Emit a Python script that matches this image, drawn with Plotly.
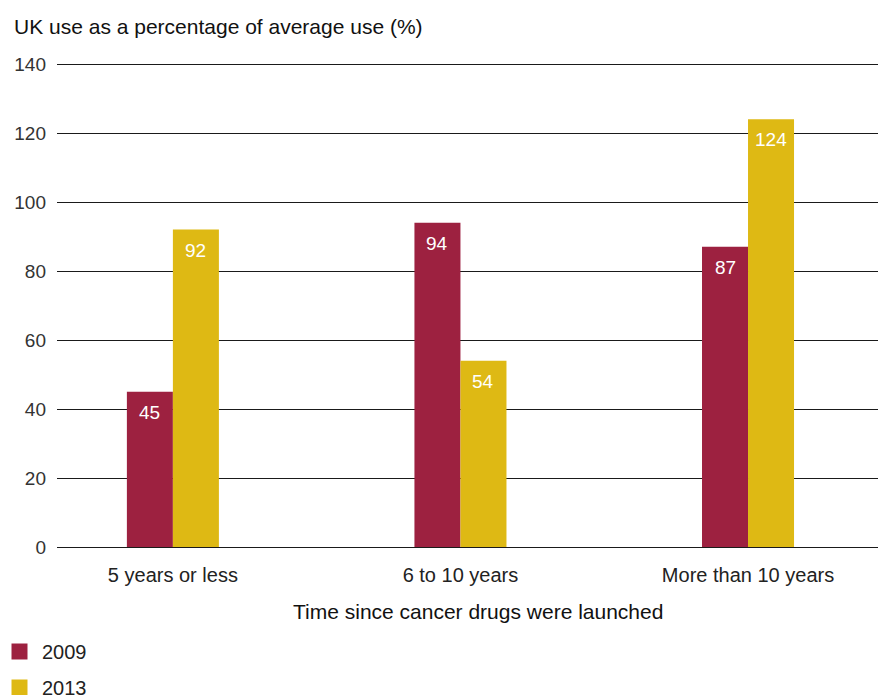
import plotly.graph_objects as go

categories = ["5 years or less", "6 to 10 years", "More than 10 years"]
series_names = ["2009", "2013"]
values_2009 = [45, 94, 87]
values_2013 = [92, 54, 124]
y_ticks = [0, 20, 40, 60, 80, 100, 120, 140]

colors = {"2009": "#9D2140", "2013": "#DEB914"}
font_family = "Liberation Sans, Arial, Helvetica, sans-serif"

PLOT_W, PLOT_H = 821, 484

fig = go.Figure()
for i, (name, vals) in enumerate(zip(series_names, [values_2009, values_2013])):
    fig.add_trace(go.Bar(
        x=categories, y=vals, name=name,
        marker=dict(color=colors[name], line=dict(width=0)),
        showlegend=False,
        hoverinfo="x+y+name",
    ))
    # legend entry with a larger square swatch
    fig.add_trace(go.Scatter(
        x=[None], y=[None], name=name, mode="markers",
        marker=dict(symbol="square", size=16, color=colors[name]),
        showlegend=True, legendgroup=name,
    ))
    # value labels just inside the top of each bar
    for cat, v in zip(categories, vals):
        fig.add_annotation(
            x=cat, y=v, xref="x", yref="y",
            text=str(v), showarrow=False,
            yanchor="top", yshift=-8,
            xshift=-23 if i == 0 else 23,
            font=dict(family=font_family, size=19, color="white"),
        )

fig.add_annotation(
    text="UK use as a percentage of average use (%)",
    xref="paper", yref="paper", x=-45 / PLOT_W, y=1 + 37 / PLOT_H,
    xanchor="left", yanchor="middle", showarrow=False,
    font=dict(family=font_family, size=21, color="#111"),
)
fig.add_annotation(
    text="Time since cancer drugs were launched",
    xref="paper", yref="paper", x=(478 - 57) / PLOT_W, y=-64 / PLOT_H,
    xanchor="center", yanchor="middle", showarrow=False,
    font=dict(family=font_family, size=21, color="#111"),
)

fig.update_layout(
    width=878, height=695,
    margin=dict(l=57, r=0, t=63, b=148, autoexpand=False),
    paper_bgcolor="white", plot_bgcolor="white",
    barmode="group", bargap=0.68, bargroupgap=0,
    font=dict(family=font_family, size=19, color="#222"),
    showlegend=True,
    legend=dict(
        orientation="v", x=-60 / PLOT_W, xanchor="left",
        y=-85 / PLOT_H, yanchor="top",
        font=dict(family=font_family, size=20, color="#222"),
        tracegroupgap=7, itemwidth=35,
        bgcolor="rgba(0,0,0,0)",
    ),
    xaxis=dict(
        type="category", range=[-0.403, 2.452],
        showgrid=False, showline=False, ticks="",
        ticklabelstandoff=14,
        tickfont=dict(family=font_family, size=20, color="#222"),
        fixedrange=True,
    ),
    yaxis=dict(
        range=[0, 140.3], tickvals=y_ticks,
        showgrid=True, gridcolor="#1a1a1a", gridwidth=1,
        zeroline=True, zerolinecolor="#1a1a1a", zerolinewidth=1,
        showline=False, ticks="", ticklabelstandoff=10,
        tickfont=dict(family=font_family, size=19, color="#333"),
        fixedrange=True,
    ),
)

fig.write_html("out.html")
